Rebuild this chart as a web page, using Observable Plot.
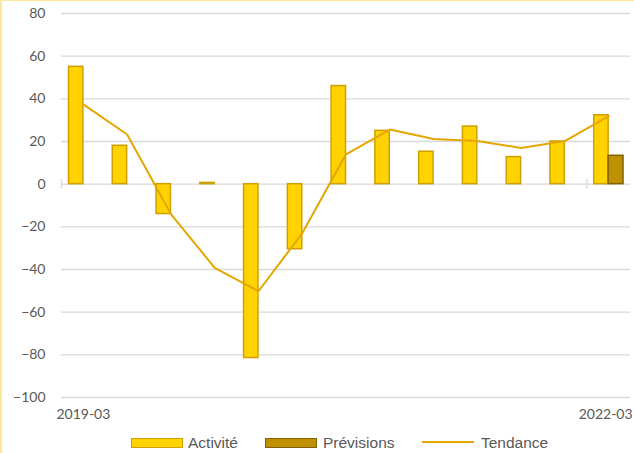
<!DOCTYPE html>
<html>
<head>
<meta charset="utf-8">
<script src="https://cdn.jsdelivr.net/npm/d3@7"></script>
<script src="https://cdn.jsdelivr.net/npm/@observablehq/plot@0.6"></script>
<style>
  html, body { margin: 0; padding: 0; background: #fff; }
  #wrap { position: relative; width: 634px; height: 453px; overflow: hidden; background: #fff; }
  #wrap::after { content: ""; position: absolute; left: 0; top: 0; width: 634px; height: 453px;
    border-left: 2px solid #FFE699; border-top: 1px solid #FFE699; box-sizing: border-box; pointer-events: none; }
  #legend { position: relative; height: 23px; font-family: "Liberation Sans", Arial, sans-serif; font-size: 15.5px; color: #595959; }
  #legend .sw { position: absolute; top: 8px; width: 52px; height: 10px; box-sizing: border-box; border-width: 1.6px; border-style: solid; }
  #legend .ln { position: absolute; top: 11px; width: 52px; height: 2px; }
  #legend .tx { position: absolute; top: 0; line-height: 25px; white-space: nowrap; }
</style>
</head>
<body>
<div id="wrap">
  <div id="chart"></div>
  <div id="legend"></div>
</div>
<script>
const categories = ["2019-03","2019-06","2019-09","2019-12","2020-03","2020-06","2020-09","2020-12","2021-03","2021-06","2021-09","2021-12","2022-03"];
const activite   = [55, 18, -14, 0.6, -81.5, -30.5, 46, 25, 15.2, 27, 12.7, 20, 32.3];
const previsions = [null, null, null, null, null, null, null, null, null, null, null, null, 13.3];
const tendance   = [37.4, 23.3, -14, -39.2, -50.2, -23, 14, 25.6, 21.2, 20.2, 17, 20.2, 31.9];
const yTicks = [-100, -80, -60, -40, -20, 0, 20, 40, 60, 80];
const xLabelFirst = ["2019-03"];
const xLabelLast = ["2022-03"];
const seriesNames = ["Activité", "Prévisions", "Tendance"];

const colors = {
  actFill: "#FFD200", actStroke: "#CFA000",
  prevFill: "#BF9000", prevStroke: "#806000",
  trend: "#E3A700", grid: "#D9D9D9"
};

const actData = categories.map((c, i) => ({cat: c, v: activite[i]}));
const prevData = categories.map((c, i) => ({cat: c, v: previsions[i]})).filter(d => d.v != null);
const trendData = categories.map((c, i) => ({cat: c, v: tendance[i]}));

const W = 634, ML = 61, MR = 4;
const bw = (W - ML - MR) / categories.length;

const chart = Plot.plot({
  width: W,
  height: 430,
  marginLeft: ML,
  marginRight: MR,
  marginTop: 13,
  marginBottom: 33,
  style: {fontFamily: "Lato, 'Liberation Sans', sans-serif", fontSize: "14px", color: "#595959", background: "transparent"},
  x: {type: "band", domain: categories, padding: 0, round: false, axis: null, label: null},
  y: {domain: [-100, 80], axis: null, label: null},
  marks: [
    Plot.gridY(yTicks, {stroke: colors.grid, strokeOpacity: 1, strokeWidth: 1.4}),
    Plot.ruleX([categories[0], categories[12]], {x: d => d, y1: -2.3, y2: 2, stroke: colors.grid, strokeWidth: 1.5, dx: -bw / 2}),
    Plot.barY(actData, {x: "cat", y: "v", fill: colors.actFill, stroke: colors.actStroke, strokeWidth: 1.5, insetLeft: 7.5, insetRight: bw / 2}),
    Plot.barY(prevData, {x: "cat", y: "v", fill: colors.prevFill, stroke: colors.prevStroke, strokeWidth: 1.5, insetLeft: bw / 2, insetRight: 7}),
    Plot.lineY(trendData, {x: "cat", y: "v", stroke: colors.trend, strokeWidth: 2}),
    Plot.axisY(yTicks, {tickSize: 0, tickPadding: 16, fill: "#595959", label: null}),
    Plot.text(xLabelFirst, {x: d => d, text: d => d, frameAnchor: "bottom", dy: 21.5, fill: "#595959"}),
    Plot.text(xLabelLast, {x: d => d, text: d => d, frameAnchor: "bottom", dy: 21.5, dx: 24, textAnchor: "end", fill: "#595959"})
  ]
});
document.getElementById("chart").appendChild(chart);

const legend = document.getElementById("legend");
const items = [
  {kind: "sw", left: 131, fill: colors.actFill, stroke: colors.actStroke, textLeft: 188, name: seriesNames[0]},
  {kind: "sw", left: 265, fill: colors.prevFill, stroke: colors.prevStroke, textLeft: 323, name: seriesNames[1]},
  {kind: "ln", left: 422, fill: colors.trend, textLeft: 481, name: seriesNames[2]}
];
for (const it of items) {
  const s = document.createElement("div");
  s.className = it.kind;
  s.style.left = it.left + "px";
  s.style.background = it.fill;
  if (it.kind === "sw") s.style.borderColor = it.stroke;
  legend.appendChild(s);
  const t = document.createElement("div");
  t.className = "tx";
  t.style.left = it.textLeft + "px";
  t.textContent = it.name;
  legend.appendChild(t);
}
</script>
</body>
</html>
